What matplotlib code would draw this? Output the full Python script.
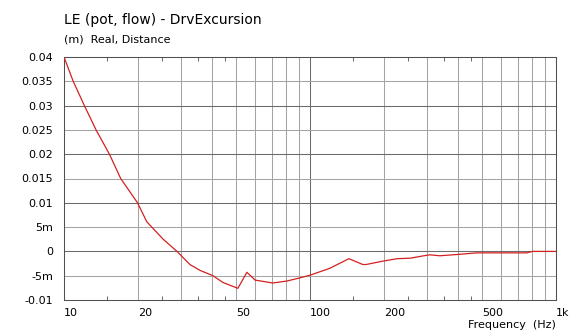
import matplotlib
matplotlib.use("Agg")
import matplotlib.pyplot as plt
from matplotlib.ticker import FixedLocator, FixedFormatter, NullFormatter

freq = [10, 10.9, 12.1, 13.5, 15.3, 17.0, 19.9, 21.7, 25.3, 28.8, 32.5, 35.7, 40.3, 44.3,
        50.9, 55.4, 59.8, 70.5, 80.5, 90, 100, 120, 144, 164, 169, 198, 226, 255, 290, 307,
        337, 405, 476, 762, 802, 1000]
excursion = [0.04, 0.035, 0.03, 0.025, 0.02, 0.015, 0.01, 0.0061, 0.0025, 0.0, -0.0027, -0.0039,
             -0.005, -0.0064, -0.0076, -0.0043, -0.0059, -0.0065, -0.0061, -0.0055, -0.0049,
             -0.0035, -0.0015, -0.0027, -0.0027, -0.002, -0.0015, -0.0014, -0.0009, -0.0007,
             -0.0009, -0.0006, -0.0003, -0.0003, 0.0, 0.0]

x_ticks = [10, 20, 50, 100, 200, 500, 1000]
x_labels = ["10", "20", "50", "100", "200", "500", "1k"]
x_minor = [15, 25, 35, 45, 150, 250, 350, 450]
y_ticks = [0.04, 0.035, 0.03, 0.025, 0.02, 0.015, 0.01, 0.005, 0.0, -0.005, -0.01]
y_labels = ["0.04", "0.035", "0.03", "0.025", "0.02", "0.015", "0.01", "5m", "0", "-5m", "-0.01"]

plt.rcParams['font.family'] = ['DejaVu Sans']
fig = plt.figure(figsize=(5.79, 3.36), dpi=100)
ax = fig.add_axes([64/579, 1-300/336, (556-64)/579, (300-57)/336])
ax.set_xscale('log')
ax.set_xlim(10, 1000)
ax.set_ylim(-0.01, 0.04)

light = '#a4a4a4'
dark = '#6a6a6a'
for f in [20, 30, 40, 50, 60, 70, 80, 90, 200, 300, 400, 500, 600, 700, 800, 900]:
    ax.axvline(f, color=light, lw=0.75, zorder=1)
ax.axvline(100, color=dark, lw=0.75, zorder=1)
for i, v in enumerate(y_ticks):
    if v in (0.04, -0.01):
        continue
    ax.axhline(v, color=dark if i % 2 == 0 else light, lw=0.75, zorder=1)

ax.plot(freq, excursion, color='#d42020', lw=0.9, zorder=3)

ax.xaxis.set_major_locator(FixedLocator(x_ticks))
ax.xaxis.set_major_formatter(FixedFormatter(x_labels))
ax.xaxis.set_minor_locator(FixedLocator(x_minor))
ax.xaxis.set_minor_formatter(NullFormatter())
ax.tick_params(axis='x', which='major', length=0, pad=6, labelsize=8)
ax.tick_params(axis='x', which='minor', direction='in', length=3, width=0.75,
               top=True, bottom=True, color=dark)
for lbl in ax.get_xticklabels():
    lbl.set_horizontalalignment('left')

ax.set_yticks(y_ticks)
ax.set_yticklabels(y_labels)
ax.tick_params(axis='y', which='both', length=0, pad=8, labelsize=8)
ax.yaxis.set_minor_locator(FixedLocator([]))

for s in ax.spines.values():
    s.set_color('#505050')
    s.set_linewidth(0.75)

fig.text(64/579, 1-20/336, "LE (pot, flow) - DrvExcursion", fontsize=10, va='center', ha='left')
fig.text(64/579, 1-39/336, "(m)  Real, Distance", fontsize=8, va='center', ha='left')
fig.text(556/579, 1-325/336, "Frequency  (Hz)", fontsize=8, va='center', ha='right')

fig.savefig("out.png", dpi=100)
